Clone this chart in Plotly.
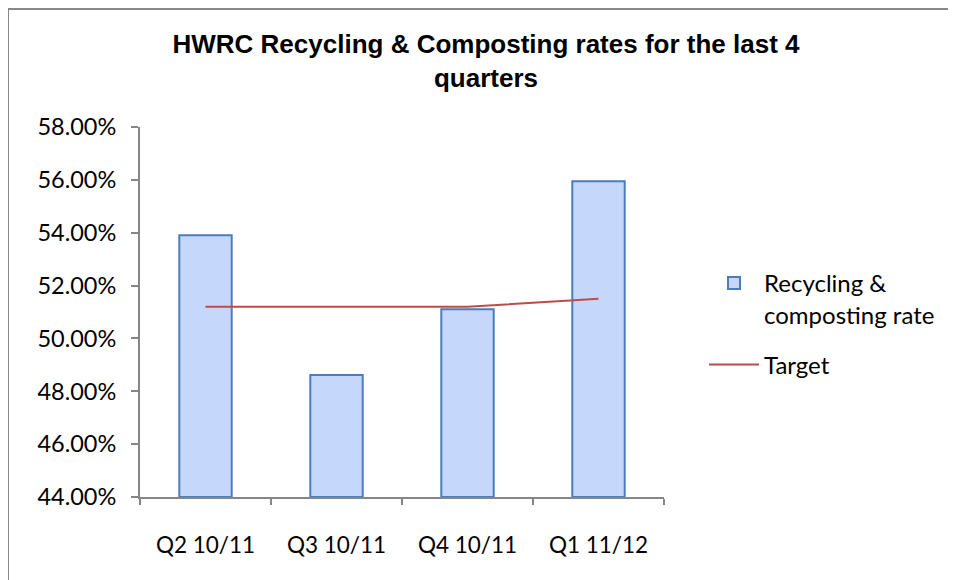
import plotly.graph_objects as go

quarters = ["Q2 10/11", "Q3 10/11", "Q4 10/11", "Q1 11/12"]
recycling_rate = [53.90, 48.62, 51.10, 55.95]
target = [51.2, 51.2, 51.2, 51.5]
y_ticks = [44, 46, 48, 50, 52, 54, 56, 58]
y_tick_labels = [f"{v:.2f}%" for v in y_ticks]

W, H = 956, 580
L, R, T, B = 132, 300, 119, 91
PW, PH = W - L - R, H - T - B


def px(x):
    return (x - L) / PW


def py(y):
    return (H - B - y) / PH


fig = go.Figure()
fig.add_trace(go.Bar(
    x=quarters, y=[v - 44 for v in recycling_rate], base=44,
    name="Recycling &<br>composting rate", legendgroup="a",
    marker=dict(color="#c5d8fb", line=dict(color="#4a7ebb", width=2)),
    width=0.4,
))
fig.add_trace(go.Scatter(
    x=quarters, y=target, mode="lines", name="Target", legendgroup="b",
    line=dict(color="#be4b48", width=2),
))

font_body = "Lato, 'Open Sans', sans-serif"

fig.update_layout(
    width=W, height=H,
    margin=dict(l=L, r=R, t=T, b=B, autoexpand=False),
    paper_bgcolor="white", plot_bgcolor="white",
    title=dict(
        text="HWRC Recycling & Composting rates for the last 4<br>quarters",
        font=dict(family="Liberation Sans, Arial, sans-serif", size=26, color="black", weight="bold"),
        x=0.5, xanchor="center", xref="container",
        y=1 - 45 / H, yanchor="top", yref="container",
    ),
    showlegend=True,
    legend=dict(
        x=px(696), y=py(253), xanchor="left", yanchor="top",
        font=dict(family=font_body, size=24, color="black"),
        valign="top", itemwidth=50, tracegroupgap=16,
        bgcolor="rgba(0,0,0,0)",
    ),
    xaxis=dict(
        showline=True, linecolor="#868686", linewidth=2,
        ticks="outside", tickson="boundaries", ticklen=6, tickcolor="#868686", tickwidth=2,
        tickfont=dict(family=font_body, size=22.5, color="black"),
        ticklabelstandoff=27, showgrid=False, zeroline=False,
    ),
    yaxis=dict(
        range=[44, 58], tickvals=y_ticks, ticktext=y_tick_labels,
        showline=True, linecolor="#868686", linewidth=2,
        ticks="outside", ticklen=7, tickcolor="#868686", tickwidth=2,
        tickfont=dict(family=font_body, size=23.5, color="black"),
        ticklabelstandoff=10, showgrid=False, zeroline=False,
    ),
    shapes=[
        dict(type="line", xref="paper", yref="paper", x0=px(0), x1=px(0), y0=py(1), y1=py(620),
             line=dict(color="#888888", width=2)),
        dict(type="line", xref="paper", yref="paper", x0=px(0), x1=px(1000), y0=py(1), y1=py(1),
             line=dict(color="#888888", width=2)),
    ],
)

fig.write_html("out.html")
